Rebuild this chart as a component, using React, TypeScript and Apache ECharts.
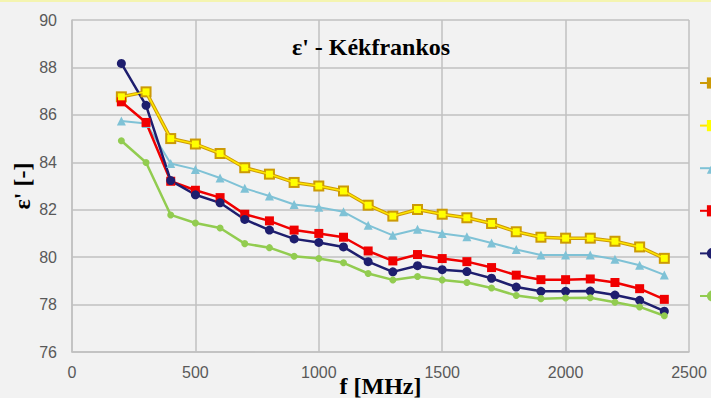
import React, { useEffect, useRef } from 'react';
import * as echarts from 'echarts';

const freqs = [200, 300, 400, 500, 600, 700, 800, 900, 1000, 1100, 1200, 1300, 1400, 1500, 1600, 1700, 1800, 1900, 2000, 2100, 2200, 2300, 2400];

const seriesNames = ['S1', 'S2', 'S3', 'S4', 'S5', 'S6'];

const goldValues = [86.76, 86.97, 85.0, 84.77, 84.37, 83.77, 83.5, 83.15, 83.0, 82.79, 82.19, 81.73, 82.01, 81.81, 81.66, 81.42, 81.07, 80.84, 80.8, 80.8, 80.67, 80.43, 79.95];
const yellowValues = [86.76, 86.97, 85.0, 84.77, 84.37, 83.77, 83.5, 83.15, 83.0, 82.79, 82.19, 81.73, 82.01, 81.81, 81.66, 81.42, 81.07, 80.84, 80.8, 80.8, 80.67, 80.43, 79.95];
const cyanValues = [85.74, 85.64, 83.95, 83.7, 83.34, 82.9, 82.58, 82.22, 82.1, 81.91, 81.35, 80.92, 81.18, 81.0, 80.86, 80.6, 80.32, 80.09, 80.09, 80.09, 79.91, 79.66, 79.25];
const redValues = [86.55, 85.68, 83.2, 82.82, 82.51, 81.81, 81.53, 81.14, 81.0, 80.84, 80.26, 79.84, 80.11, 79.94, 79.81, 79.56, 79.24, 79.05, 79.05, 79.08, 78.93, 78.67, 78.22];
const navyValues = [88.17, 86.4, 83.23, 82.63, 82.29, 81.59, 81.14, 80.77, 80.62, 80.43, 79.81, 79.38, 79.64, 79.47, 79.39, 79.11, 78.74, 78.56, 78.56, 78.57, 78.4, 78.18, 77.72];
const greenValues = [84.91, 83.99, 81.78, 81.44, 81.23, 80.57, 80.4, 80.04, 79.94, 79.76, 79.31, 79.04, 79.18, 79.04, 78.93, 78.7, 78.38, 78.25, 78.28, 78.29, 78.1, 77.9, 77.53];

const xTicks = { min: 0, max: 2500, interval: 500 };
const yTicks = { min: 76, max: 90, interval: 2 };

const pair = (vals: number[]) => freqs.map((f, i) => [f, vals[i]]);

export default function App() {
  const ref = useRef<HTMLDivElement>(null);
  useEffect(() => {
    document.body.style.margin = '0';
    const chart = echarts.init(ref.current!, null, { renderer: 'svg' });
    const gridColor = '#c0c0c0';
    const mk = (name: string, vals: number[], color: string, symbol: string, size: number, width: number, extra: any = {}) => ({
      name,
      type: 'line',
      data: pair(vals),
      symbol,
      symbolSize: size,
      lineStyle: { color, width },
      itemStyle: { color, ...(extra.itemStyle || {}) },
      z: extra.z || 2,
    });
    chart.setOption({
      animation: false,
      backgroundColor: '#f2f2f2',
      title: {
        text: "ε' - Kékfrankos",
        left: 366,
        top: 30,
        textAlign: 'center',
        textStyle: { fontFamily: 'Liberation Serif', fontWeight: 'bold', fontSize: 24, color: '#000' },
      },
      grid: { left: 72, right: 22, top: 20, bottom: 46, outerBoundsMode: 'none', containLabel: false },
      legend: {
        orient: 'vertical',
        left: 694,
        top: 71,
        itemWidth: 25,
        itemHeight: 14,
        itemGap: 30,
        formatter: () => '',
        data: seriesNames,
      },
      xAxis: {
        type: 'value',
        min: xTicks.min,
        max: xTicks.max,
        interval: xTicks.interval,
        name: 'f [MHz]',
        nameLocation: 'middle',
        nameGap: 22,
        nameMoveOverlap: false,
        nameTextStyle: { fontFamily: 'Liberation Serif', fontWeight: 'bold', fontSize: 24, lineHeight: 24, color: '#000' },
        axisLine: { lineStyle: { color: gridColor, width: 1.5 } },
        axisTick: { show: false },
        axisLabel: { color: '#595959', fontFamily: 'Liberation Sans', fontSize: 16, margin: 12, formatter: (v: number) => String(v) },
        splitLine: { show: true, lineStyle: { color: gridColor, width: 1.5 } },
      },
      yAxis: {
        type: 'value',
        min: yTicks.min,
        max: yTicks.max,
        interval: yTicks.interval,
        name: "ε' [-]",
        nameLocation: 'middle',
        nameGap: 38,
        nameRotate: 90,
        nameMoveOverlap: false,
        nameTextStyle: { fontFamily: 'Liberation Serif', fontWeight: 'bold', fontSize: 24, color: '#000' },
        axisLine: { show: true, lineStyle: { color: gridColor, width: 1.5 } },
        axisTick: { show: false },
        axisLabel: { color: '#595959', fontFamily: 'Liberation Sans', fontSize: 16, margin: 15 },
        splitLine: { show: true, lineStyle: { color: gridColor, width: 1.5 } },
      },
      graphic: [
        { type: 'rect', left: 0, top: 0, shape: { width: 711, height: 2 }, style: { fill: '#f4f4b0' } },
      ],
      series: [
        mk(seriesNames[0], goldValues, '#cc9a06', 'rect', 11, 3.5, { z: 2 }),
        mk(seriesNames[1], yellowValues, '#ffe600', 'rect', 7, 1.5, { z: 3, itemStyle: { color: '#ffff00' } }),
        mk(seriesNames[2], cyanValues, '#7fc2d6', 'triangle', 9, 2),
        mk(seriesNames[3], redValues, '#f00000', 'rect', 9, 2.5),
        mk(seriesNames[4], navyValues, '#1e1e6e', 'circle', 9, 2.5),
        mk(seriesNames[5], greenValues, '#92cc50', 'circle', 7, 2.5),
      ],
    });
    return () => chart.dispose();
  }, []);
  return <div ref={ref} style={{ width: 711, height: 398 }} />;
}
